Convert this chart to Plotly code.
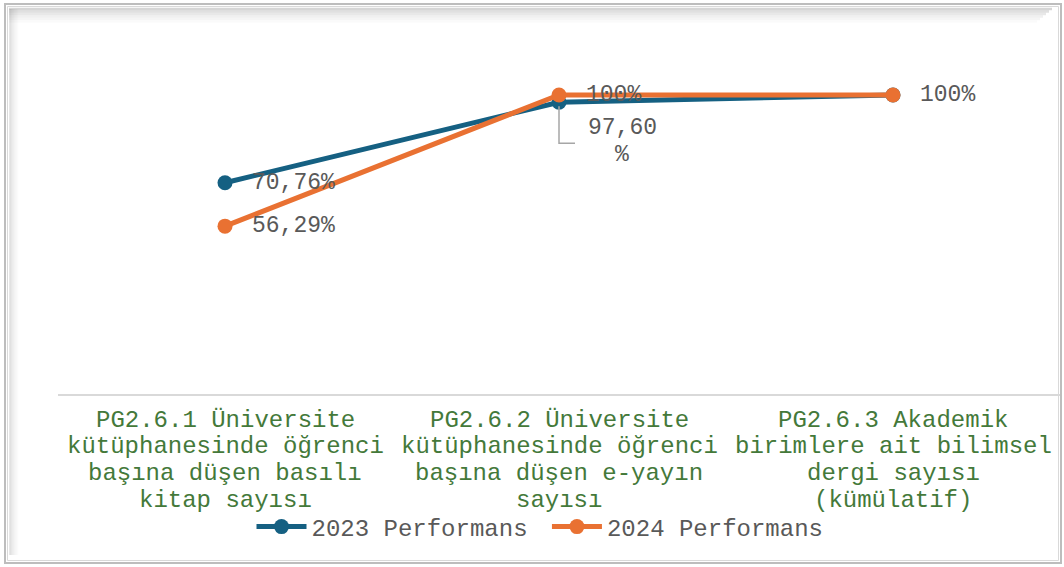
import plotly.graph_objects as go

categories = [
    "PG2.6.1 Üniversite<br>kütüphanesinde öğrenci<br>başına düşen basılı<br>kitap sayısı",
    "PG2.6.2 Üniversite<br>kütüphanesinde öğrenci<br>başına düşen e-yayın<br>sayısı",
    "PG2.6.3 Akademik<br>birimlere ait bilimsel<br>dergi sayısı<br>(kümülatif)",
]
series_names = ["2023 Performans", "2024 Performans"]
values_2023 = [70.76, 97.60, 100]
values_2024 = [56.29, 100, 100]

colors = ["#156082", "#E97132"]
FONT = "Liberation Mono, Courier New, monospace"
LABEL_COLOR = "#595959"
TICK_COLOR = "#44793a"


def fmt(v):
    if abs(v - round(v)) < 1e-9:
        return f"{int(round(v))}%"
    return f"{v:.2f}".replace(".", ",") + "%"


W, H = 1064, 567
ML, MR, MT, MB = 58, 4, 35, 172
PW, PH = W - ML - MR, H - MT - MB

fig = go.Figure()
for k, (name, vals, col) in enumerate(zip(series_names, [values_2023, values_2024], colors)):
    fig.add_trace(go.Scatter(
        x=list(range(len(categories))), y=vals,
        name=name + ("\u00a0" if k == 0 else ""),
        mode="lines+markers",
        line=dict(color=col, width=5),
        marker=dict(color=col, size=15),
    ))

annotations = []
# data labels
for vals, series in [(values_2023, 0), (values_2024, 1)]:
    for i, v in enumerate(vals):
        if series == 0 and i == 1:
            # wrapped label with leader line
            t = fmt(v)
            for part, dy in [(t[:-1], -26), (t[-1], -53)]:
                annotations.append(dict(
                    x=i, y=v, xref="x", yref="y", text=part,
                    showarrow=False, xanchor="center", yanchor="middle",
                    xshift=63, yshift=dy,
                    font=dict(family=FONT, size=23, color=LABEL_COLOR),
                ))
            continue
        if series == 0 and i == 2:
            continue  # overlapped by 2024 label at same spot
        annotations.append(dict(
            x=i, y=v, xref="x", yref="y", text=fmt(v), showarrow=False,
            xanchor="left", yanchor="middle", xshift=25, yshift=0,
            font=dict(family=FONT, size=23, color=LABEL_COLOR),
        ))

# category labels, line by line
for i, c in enumerate(categories):
    for j, line in enumerate(c.split("<br>")):
        annotations.append(dict(
            x=i, y=0, xref="x", yref="paper", text=line, showarrow=False,
            xanchor="center", yanchor="middle", yshift=-(25 + 26.7 * j),
            font=dict(family=FONT, size=24, color=TICK_COLOR),
        ))

shapes = [
    # leader line for 97,60%
    dict(type="path", xref="x", yref="y", xsizemode="pixel", ysizemode="pixel",
         xanchor=1, yanchor=values_2023[1],
         path="M 0,-4 L 0,-41 L 16,-41", line=dict(color="#a6a6a6", width=1.5)),
]


def px_x(p):
    return (p - ML) / PW


def px_y(p):
    return (H - MB - p) / PH


# frame
shapes.append(dict(type="rect", xref="paper", yref="paper",
                   x0=px_x(5), x1=px_x(1061), y0=px_y(563), y1=px_y(4),
                   line=dict(color="#bdbdbd", width=2), layer="below"))
shapes.append(dict(type="rect", xref="paper", yref="paper",
                   x0=px_x(7.5), x1=px_x(1058.5), y0=px_y(560.5), y1=px_y(6.5),
                   line=dict(color="#d9d9d9", width=1), layer="below"))
# inner shadow
for k, a in enumerate([0.16, 0.12, 0.09, 0.06, 0.04, 0.02]):
    yy = 9 + 2.5 * k
    shapes.append(dict(type="line", xref="paper", yref="paper",
                       x0=px_x(9), x1=px_x(1052 - 3 * k), y0=px_y(yy), y1=px_y(yy),
                       line=dict(color=f"rgba(0,0,0,{a})", width=2.5), layer="below"))
    xx = 10 + 1.5 * k
    shapes.append(dict(type="line", xref="paper", yref="paper",
                       x0=px_x(xx), x1=px_x(xx), y0=px_y(9), y1=px_y(555),
                       line=dict(color=f"rgba(0,0,0,{a*0.8})", width=1.5), layer="below"))

fig.update_layout(
    width=W, height=H,
    margin=dict(l=ML, r=MR, t=MT, b=MB),
    paper_bgcolor="white", plot_bgcolor="white",
    showlegend=True,
    legend=dict(orientation="h", x=px_x(540), xanchor="center",
                y=px_y(527), yanchor="middle",
                font=dict(family=FONT, size=24, color=LABEL_COLOR),
                itemwidth=50, tracegroupgap=0, bgcolor="rgba(0,0,0,0)"),
    xaxis=dict(range=[-0.5, 2.5], showticklabels=False, showgrid=False,
               zeroline=False, showline=False, ticks=""),
    yaxis=dict(range=[0, 120], showticklabels=False, showgrid=False,
               zeroline=True, zerolinecolor="#d9d9d9", zerolinewidth=1.5,
               showline=False, ticks=""),
    annotations=annotations,
    shapes=shapes,
)

fig.write_html("out.html", config={"displayModeBar": False},
               post_script="document.body.style.margin='0';document.body.style.overflow='hidden';")
